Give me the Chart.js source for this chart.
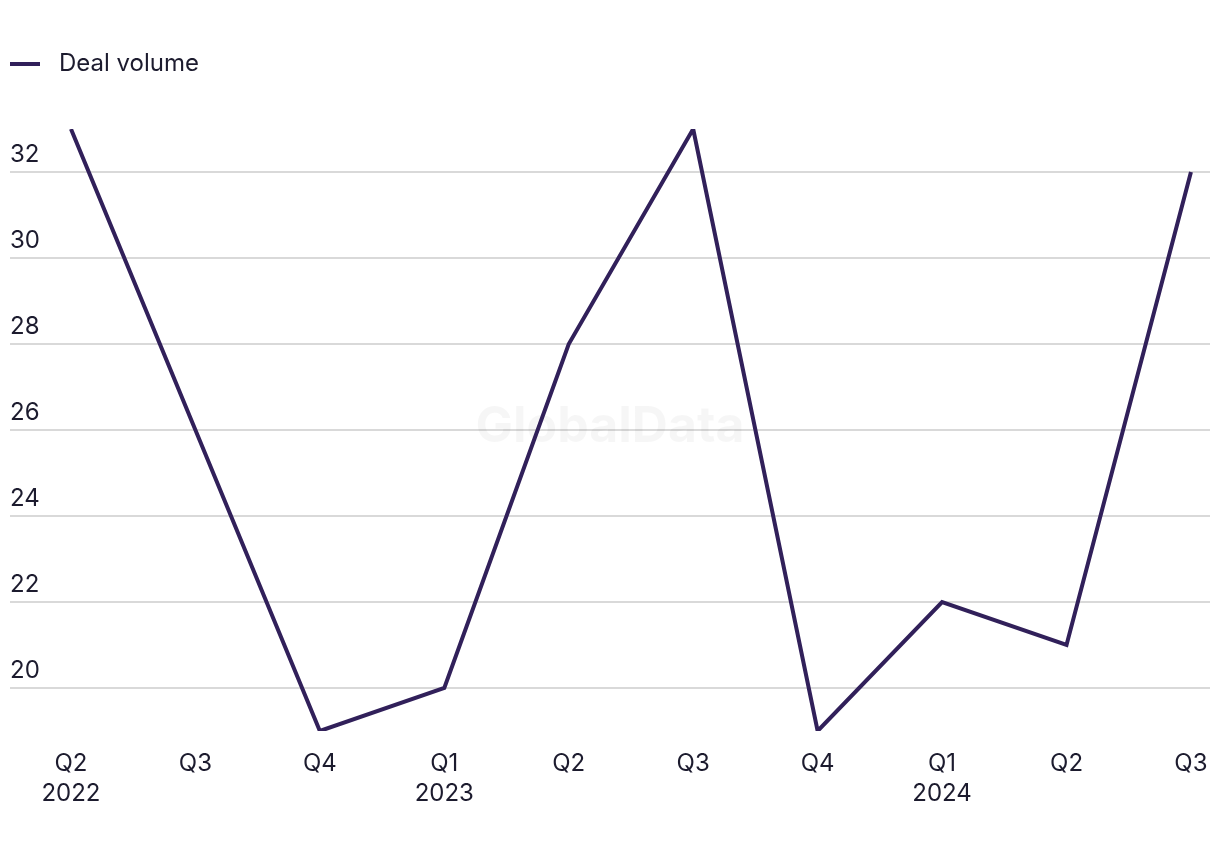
<!DOCTYPE html>
<html>
<head>
<meta charset="utf-8">
<title>Deal volume</title>
<script src="https://cdn.jsdelivr.net/npm/chart.js@4.4.1/dist/chart.umd.min.js"></script>
<style>
  html, body { margin: 0; padding: 0; background: #ffffff; }
  #wrap { width: 1220px; height: 850px; }
</style>
</head>
<body>
<div id="wrap"><canvas id="dealChart" width="1220" height="850"></canvas></div>
<script>
// --- Data ---
const quarters = ['Q2', 'Q3', 'Q4', 'Q1', 'Q2', 'Q3', 'Q4', 'Q1', 'Q2', 'Q3'];
const years = ['2022', '', '', '2023', '', '', '', '2024', '', ''];
const dealVolume = [33, 26, 19, 20, 28, 33, 19, 22, 21, 32];
const yTicks = [20, 22, 24, 26, 28, 30, 32];

const lineColor = '#31205a';
const textColor = '#1c1b2e';

// Legend marker: short line, drawn on a small canvas so the text sits where it should
function legendMarker() {
    const c = document.createElement('canvas');
    c.width = 37;
    c.height = 4;
    const g = c.getContext('2d');
    g.fillStyle = lineColor;
    g.fillRect(0, 0, 30, 4);
    return c;
}

// Extra room between the legend and the plot
const legendGap = {
    id: 'legendGap',
    beforeInit(chart) {
        const fit = chart.legend.fit;
        chart.legend.fit = function () {
            fit.bind(chart.legend)();
            this.height += 43;
        };
    }
};

// Faint watermark in the middle of the plot
const watermark = {
    id: 'watermark',
    beforeDatasetsDraw(chart) {
        const { ctx, chartArea } = chart;
        ctx.save();
        ctx.font = 'bold 50px Inter, sans-serif';
        ctx.fillStyle = 'rgba(0,0,0,0.035)';
        ctx.textAlign = 'center';
        ctx.textBaseline = 'middle';
        ctx.fillText('GlobalData', (chartArea.left + chartArea.right) / 2, 427);
        ctx.restore();
    }
};

const points = dealVolume.map((v, i) => ({ x: i, y: v }));

new Chart(document.getElementById('dealChart').getContext('2d'), {
    type: 'line',
    data: {
        datasets: [{
            label: 'Deal volume',
            data: points,
            borderColor: lineColor,
            backgroundColor: lineColor,
            borderWidth: 4,
            borderJoinStyle: 'miter',
            pointRadius: 0,
            pointHoverRadius: 0,
            tension: 0,
            fill: false,
            pointStyle: legendMarker()
        }]
    },
    plugins: [legendGap, watermark],
    options: {
        responsive: false,
        animation: false,
        layout: { padding: { top: 52, left: 10, right: 10, bottom: 31 } },
        plugins: {
            legend: {
                position: 'top',
                align: 'start',
                labels: {
                    usePointStyle: true,
                    pointStyleWidth: 37,
                    boxHeight: 24,
                    padding: 0,
                    color: textColor,
                    font: { family: 'Inter, sans-serif', size: 24 }
                }
            },
            tooltip: { enabled: false }
        },
        scales: {
            x: {
                type: 'linear',
                min: -0.49,
                max: 9.153,
                grid: { display: false },
                border: { display: false },
                afterBuildTicks: axis => {
                    axis.ticks = quarters.map((q, i) => ({ value: i }));
                },
                afterFit: axis => {
                    // labels already sit inside the plot width, no extra side padding
                    axis.paddingLeft = 0;
                    axis.paddingRight = 0;
                },
                ticks: {
                    color: textColor,
                    padding: 10,
                    maxRotation: 0,
                    autoSkip: false,
                    font: { family: 'Inter, sans-serif', size: 24, lineHeight: 1.25 },
                    callback: value => years[value] ? [quarters[value], years[value]] : quarters[value]
                }
            },
            y: {
                min: 19,
                max: 33,
                border: { display: false },
                grid: { color: '#d9d9d9', lineWidth: 2, drawTicks: false },
                afterBuildTicks: axis => {
                    axis.ticks = yTicks.map(v => ({ value: v }));
                },
                ticks: {
                    mirror: true,
                    padding: 0,
                    labelOffset: -17,
                    color: textColor,
                    font: { family: 'Inter, sans-serif', size: 24 }
                }
            }
        }
    }
});
</script>
</body>
</html>
